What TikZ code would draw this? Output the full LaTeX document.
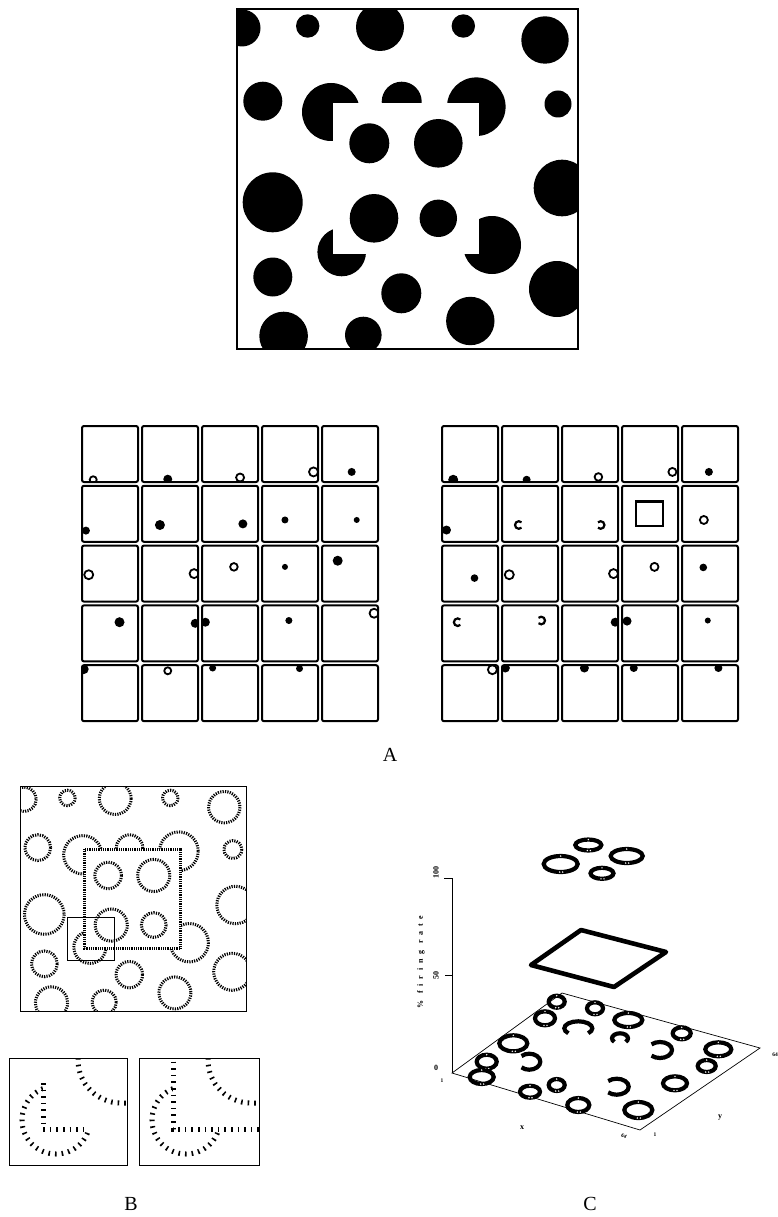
\documentclass[tikz,border=0pt]{standalone}
\usepackage{fontspec}
\setmainfont{Liberation Serif}
\newfontfamily\spacedfont[LetterSpace=60]{Liberation Serif}
\usetikzlibrary{positioning}

% discs of the stimulus (x/y/radius, pixel units of the top panel)
\newcommand{\outerdiscs}{242/28/18.5, 307.7/26/11.7, 380/27/24, 463.3/26/11.7,
  545/40/23.7, 262.8/101.2/19.5, 331/112/29, 401.7/101.7/20, 476.3/106.7/29.3,
  558/104/13.5, 272.7/202.3/30, 562/188/28.3, 341.7/252/24.3, 492/245/29,
  272.8/277/19.5, 401.3/293.3/20, 557/289/28, 283.6/336/24.3, 363.3/335/18.3,
  470.3/321/24.2}
\newcommand{\innerdiscs}{369.3/143.3/20, 438.3/143.3/24.3, 374/218.3/24.3, 438.3/218.3/18.7}

\begin{document}
\begin{tikzpicture}[x=1pt, y=-1pt,
  frame/.style={draw=black, line width=1.5pt},
  thinline/.style={draw=black, line width=0.7pt},
  cell/.style={draw=black, line width=2pt, rounded corners=2pt},
  loopmark/.style={draw=black, line width=1.8pt},
  hookmark/.style={draw=black, line width=2.2pt},
  edgeticks/.style={draw=black, line width=3pt, dash pattern=on 1.2pt off 1.2pt},
  sqticks/.style={draw=black, line width=3pt, dash pattern=on 1pt off 0.8pt},
  zoomticks/.style={draw=black, line width=5pt, dash pattern=on 1.6pt off 5pt},
  ring/.style={draw=black, line width=4.2pt},
  lab/.style={font=\fontsize{20}{22}\selectfont, inner sep=0pt},
  axlab/.style={font=\fontsize{8}{9}\selectfont\bfseries, inner sep=0pt},
  tinylab/.style={font=\fontsize{5.5}{6}\selectfont\bfseries, inner sep=0pt}
]
\useasboundingbox (0,0) rectangle (778,1217);

% stimulus
\begin{scope}
  \clip (237,9) rectangle (578,349);
  \foreach \x/\y/\rad in \outerdiscs { \fill (\x,\y) circle (\rad); }
  \fill[white] (333.3,103.3) rectangle (479.3,254);
  \foreach \x/\y/\rad in \innerdiscs { \fill (\x,\y) circle (\rad); }
\end{scope}
\draw[frame] (237,9) rectangle (578,349);

% receptive field grids
\foreach \gx/\col/\row/\pu/\pv/\sz in {
  82/1/0/.46/.95/4.5, 82/4/0/.53/.82/4, 82/0/1/.07/.80/4, 82/1/1/.32/.70/5,
  82/2/1/.73/.68/4.5, 82/3/1/.41/.61/3.5, 82/4/1/.62/.61/3, 82/3/2/.41/.38/3,
  82/4/2/.28/.27/5, 82/0/3/.67/.30/5, 82/1/3/.95/.32/4.5, 82/2/3/.06/.30/4.5,
  82/3/3/.48/.27/3.5, 82/0/4/.03/.07/5, 82/2/4/.19/.05/3.5, 82/3/4/.67/.06/3.5,
  442/0/0/.20/.96/5, 442/1/0/.44/.96/4, 442/4/0/.48/.82/4, 442/0/1/.08/.79/4.5,
  442/0/2/.58/.58/3.8, 442/4/2/.38/.39/3.8, 442/2/3/.95/.30/4.5, 442/3/3/.09/.28/4.5,
  442/4/3/.46/.27/3, 442/1/4/.06/.05/4.5, 442/2/4/.40/.05/4.5, 442/3/4/.21/.05/4,
  442/4/4/.65/.05/4} {
  \begin{scope}
    \clip (\gx+\col*60,426+\row*59.8) rectangle ++(56,56);
    \fill (\gx+\col*60+\pu*56,426+\row*59.8+\pv*56) circle (\sz);
  \end{scope}
}
\foreach \gx/\col/\row/\pu/\pv/\sz in {
  82/0/0/.20/.96/3.5, 82/2/0/.68/.92/4, 82/3/0/.92/.82/4.5, 82/0/2/.12/.52/4.5,
  82/1/2/.93/.50/4.5, 82/2/2/.57/.38/3.8, 82/4/3/.93/.14/4.5, 82/1/4/.46/.10/3.5,
  442/2/0/.65/.91/3.8, 442/3/0/.90/.82/4, 442/4/1/.39/.61/4, 442/1/2/.13/.52/4.5,
  442/2/2/.92/.50/4.5, 442/3/2/.58/.38/4, 442/0/4/.90/.08/4.5} {
  \begin{scope}
    \clip (\gx+\col*60,426+\row*59.8) rectangle ++(56,56);
    \draw[loopmark] (\gx+\col*60+\pu*56,426+\row*59.8+\pv*56) circle (\sz);
  \end{scope}
}
\foreach \gx/\col/\row/\pu/\pv/\sz/\ang in {
  442/1/1/.30/.70/3.8/45, 442/2/1/.69/.70/3.8/225,
  442/0/3/.28/.30/3.8/45, 442/1/3/.70/.27/3.8/225} {
  \draw[hookmark] (\gx+\col*60+\pu*56,426+\row*59.8+\pv*56) ++(\ang:\sz)
    arc[start angle=\ang, delta angle=270, radius=\sz];
}
\draw[line width=2.6pt] (442+180+.25*56,426+59.8+.28*56) rectangle (442+180+.73*56,426+59.8+.72*56);
\foreach \gx in {82,442} {
  \foreach \col in {0,...,4} {
    \foreach \row in {0,...,4} {
      \draw[cell] (\gx+\col*60,426+\row*59.8) rectangle ++(56,56);
    }
  }
}
\node[lab] (labA) at (390,755) {A};

% model contours, same layout as the stimulus
\begin{scope}[shift={(-135.96,780.75)}, scale=0.661]
  \begin{scope}
    \clip (237,9) rectangle (578,349);
    \foreach \x/\y/\rad in \outerdiscs { \draw[edgeticks] (\x,\y) circle (\rad); }
    \fill[white] (333.3,103.3) rectangle (479.3,254);
    \draw[sqticks] (333.3,103.3) rectangle (479.3,254);
    \foreach \x/\y/\rad in \innerdiscs { \draw[edgeticks] (\x,\y) circle (\rad); }
  \end{scope}
  \draw[thinline] (237,9) rectangle (578,349);
  \draw[thinline] (307,207) rectangle (379,271);
\end{scope}

% enlarged corner, before and after
\foreach \ix/\iw/\ytop/\xend in {9/118/25/74, 139/120/-3/125} {
  \begin{scope}[shift={(\ix,1058)}]
    \clip (0,0) rectangle (\iw,107);
    \draw[zoomticks] (47,62) circle (34);
    \fill[white] (34,-3) rectangle (130,71);
    \draw[zoomticks] (34,\ytop) -- (34,71) -- (\xend,71);
    \draw[zoomticks] (130,45) -- (112,45) arc[start angle=90, end angle=180, radius=43] -- (69,-3);
  \end{scope}
  \draw[thinline] (\ix,1058) rectangle ++(\iw,107);
}
\node[lab] (labB) at (131,1204) {B};

% firing rate plot
\draw[thinline] (452,1073) -- (562,993) -- (760,1048) -- (640,1130) -- cycle;
\draw[thinline, line width=1pt] (452,1073) -- (452,878) -- (444,878);
\draw[thinline, line width=1pt] (452,975) -- (445,975);
\node[axlab, rotate=90] (ztop) at (436,872) {100};
\node[axlab, rotate=90] (zmid) at (436,975) {50};
\node[axlab] (zzero) at (436,1068) {0};
\node[axlab, rotate=90] (ztitle) at (421,962) {\spacedfont\% firing rate};
\node[axlab] (xname) at (522,1128) {x};
\node[axlab] (yname) at (720,1118) {y};
\node[tinylab] (xstart) at (442,1081) {1};
\node[tinylab, rotate=-30] (xend) at (624,1136) {64};
\node[tinylab] (ystart) at (655,1135) {1};
\node[tinylab] (yend) at (775,1055) {64};

\draw[ring, line width=4.6pt, line join=round] (531,965) -- (581,930) -- (666,952) -- (614,987) -- cycle;
\foreach \x/\y/\rx/\ry in {588.3/845/13/5.5, 626.7/856/16/7, 560.7/864/17/8, 602/873.3/11.5/5.5,
  556.7/1001.7/8/6, 595/1008.3/8/6, 545/1018.3/10/7, 628.3/1020/14/7, 681.7/1033.3/9/6,
  513.3/1043.3/14/8, 718.3/1049.3/13/7, 486.7/1061.7/10/7, 706.7/1066/9/6, 481.7/1077/12/7,
  530/1091.7/10/6, 556.7/1085/8/6, 675/1083.3/12/7, 578.3/1105/11/7, 638.3/1110/14/8} {
  \draw[ring] (\x,\y) ellipse [x radius=\rx, y radius=\ry];
  \fill[white] (\x,\y-\ry) circle (0.8) (\x+2,\y+\ry) circle (0.8) (\x-1,\y+\ry) circle (0.8);
}
\foreach \x/\y/\rx/\ry/\ang in {578.3/1028.3/14/7/135, 620/1038.3/8/5/135, 660/1050/12/8/225,
  529.3/1061.7/11/8/225, 616.7/1086.7/12/8/225} {
  \draw[ring] (\x,\y) ++({\rx*cos(\ang)},{\ry*sin(\ang)}) arc[start angle=\ang, delta angle=270, x radius=\rx, y radius=\ry];
}
\node[lab] (labC) at (590,1204) {C};
\end{tikzpicture}
\end{document}
